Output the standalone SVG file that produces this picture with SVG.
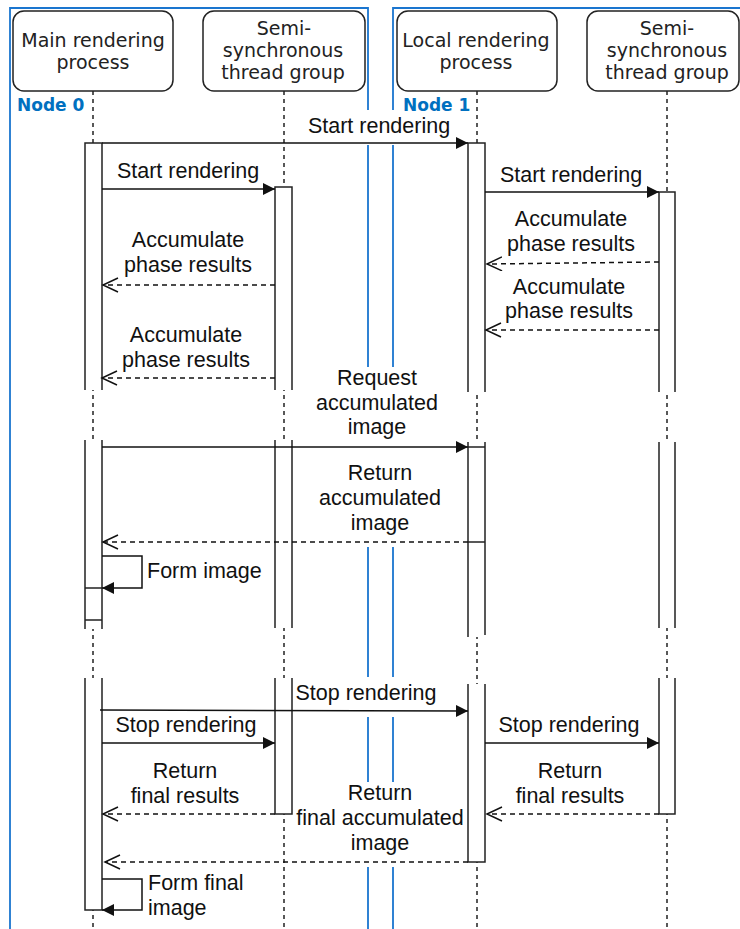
<svg xmlns="http://www.w3.org/2000/svg" width="740" height="929" viewBox="0 0 740 929">
<style>
.box{fill:#fff;stroke:#222;stroke-width:1.5}
.life{stroke:#222;stroke-width:1.5;stroke-dasharray:4 4;fill:none}
.bar{stroke:#222;stroke-width:1.5;fill:none}
.bg{fill:#fff;stroke:none}
.msg{stroke:#111;stroke-width:1.5;fill:none}
.ret{stroke:#111;stroke-width:1.5;fill:none;stroke-dasharray:5 4}
.frame{stroke:#1A75CF;stroke-width:1.8;fill:none}
.h{font-family:"DejaVu Sans",Verdana,sans-serif;font-size:19px;fill:#222;text-anchor:middle}
.t{font-family:"Liberation Sans",Arial,sans-serif;font-size:21.5px;fill:#111;text-anchor:middle}
.ts{font-family:"Liberation Sans",Arial,sans-serif;font-size:21.5px;fill:#111}
.node{font-family:"DejaVu Sans",Verdana,sans-serif;font-weight:bold;font-size:17px;fill:#0070C0}
</style>
<defs>
<marker id="fa" markerUnits="userSpaceOnUse" markerWidth="13" markerHeight="13" refX="12" refY="6" orient="auto"><path d="M0,0 L12,6 L0,12 z" fill="#111"/></marker>
<marker id="oa" markerUnits="userSpaceOnUse" markerWidth="18" markerHeight="18" refX="15.5" refY="7.5" orient="auto"><path d="M0.5,0.5 L15.5,7.5 L0.5,14.5" fill="none" stroke="#111" stroke-width="1.5"/></marker>
</defs>

<g id="frames">
<path class="frame" d="M10,929 V8 H368 V110 M368,145 V367 M368,547 V677 M368,717 V782 M368,867 V929"/>
<path class="frame" d="M740,8 H393 V110 M393,145 V367 M393,547 V677 M393,717 V782 M393,867 V929"/>
<text class="node" x="17" y="111">Node 0</text>
<text class="node" x="403" y="111">Node 1</text>
</g>

<g id="main">
<rect class="box" x="13" y="11" width="160" height="80" rx="11"/>
<text class="h" x="93" y="47">Main rendering</text>
<text class="h" x="93" y="69">process</text>
<path class="life" d="M93,91 V929"/>
<rect class="bg" x="85" y="143" width="17" height="247"/>
<path class="bar" d="M85,390 V143 H102 V390"/>
<rect class="bg" x="85" y="440" width="17" height="189"/>
<path class="bar" d="M85,440 V629 M102,440 V629 M85,588 H102 M85,620 H102"/>
<rect class="bg" x="85" y="678" width="17" height="232"/>
<path class="bar" d="M85,678 V910 H102 V678"/>
</g>

<g id="semi0">
<rect class="box" x="203" y="11" width="162" height="80" rx="11"/>
<text class="h" x="284" y="35">Semi-</text>
<text class="h" x="283" y="57">synchronous</text>
<text class="h" x="283" y="79">thread group</text>
<path class="life" d="M284,91 V929"/>
<rect class="bg" x="275" y="187" width="17" height="203"/>
<path class="bar" d="M275,390 V187 H292 V390"/>
<rect class="bg" x="275" y="440" width="17" height="188"/>
<path class="bar" d="M275,440 V628 M292,440 V628"/>
<rect class="bg" x="275" y="678" width="17" height="136"/>
<path class="bar" d="M275,678 V814 H292 V678"/>
</g>

<g id="local">
<rect class="box" x="397" y="11" width="160" height="80" rx="11"/>
<text class="h" x="476" y="47">Local rendering</text>
<text class="h" x="476" y="69">process</text>
<path class="life" d="M477,91 V929"/>
<rect class="bg" x="468" y="143" width="17" height="249"/>
<path class="bar" d="M468,392 V143 H485 V392"/>
<rect class="bg" x="468" y="442" width="17" height="195"/>
<path class="bar" d="M468,442 V637 M485,442 V635 M468,447 H485 M468,542 H485"/>
<rect class="bg" x="468" y="684" width="17" height="178"/>
<path class="bar" d="M468,684 V862 H485 V684"/>
</g>

<g id="semi1">
<rect class="box" x="587" y="11" width="152" height="80" rx="11"/>
<text class="h" x="667" y="35">Semi-</text>
<text class="h" x="667" y="57">synchronous</text>
<text class="h" x="667" y="79">thread group</text>
<path class="life" d="M667,91 V929"/>
<rect class="bg" x="659" y="192" width="16" height="200"/>
<path class="bar" d="M659,392 V192 H675 V392"/>
<rect class="bg" x="659" y="442" width="16" height="186"/>
<path class="bar" d="M659,442 V628 M675,442 V628"/>
<rect class="bg" x="659" y="678" width="16" height="136"/>
<path class="bar" d="M659,678 V814 H675 V678"/>
</g>

<g id="connectors">
<path class="msg" d="M102,143 H468" marker-end="url(#fa)"/>
<text class="t" x="379" y="133">Start rendering</text>
<path class="msg" d="M102,189 H275" marker-end="url(#fa)"/>
<text class="t" x="188" y="178">Start rendering</text>
<path class="msg" d="M485,192 H659" marker-end="url(#fa)"/>
<text class="t" x="571" y="182">Start rendering</text>

<path class="ret" d="M275,285 H103" marker-end="url(#oa)"/>
<text class="t" x="188" y="247">Accumulate</text>
<text class="t" x="188" y="272">phase results</text>
<path class="ret" d="M275,378 H102" marker-end="url(#oa)"/>
<text class="t" x="186" y="342">Accumulate</text>
<text class="t" x="186" y="367">phase results</text>
<path class="ret" d="M659,262 L487,264" marker-end="url(#oa)"/>
<text class="t" x="571" y="226">Accumulate</text>
<text class="t" x="571" y="251">phase results</text>
<path class="ret" d="M659,330 H486" marker-end="url(#oa)"/>
<text class="t" x="569" y="294">Accumulate</text>
<text class="t" x="569" y="318">phase results</text>

<path class="msg" d="M102,447 H468" marker-end="url(#fa)"/>
<text class="t" x="377" y="385">Request</text>
<text class="t" x="377" y="410">accumulated</text>
<text class="t" x="377" y="434">image</text>
<path class="ret" d="M468,542 H103" marker-end="url(#oa)"/>
<text class="t" x="380" y="480">Return</text>
<text class="t" x="380" y="505">accumulated</text>
<text class="t" x="380" y="530">image</text>

<path class="msg" d="M102,556 H142 V588 H102" marker-end="url(#fa)"/>
<text class="ts" x="147" y="578">Form image</text>

<path class="msg" d="M100,710 L468,711" marker-end="url(#fa)"/>
<text class="t" x="366" y="700">Stop rendering</text>
<path class="msg" d="M102,743 H275" marker-end="url(#fa)"/>
<text class="t" x="186" y="732">Stop rendering</text>
<path class="msg" d="M485,743 H659" marker-end="url(#fa)"/>
<text class="t" x="569" y="732">Stop rendering</text>

<path class="ret" d="M275,814 H103" marker-end="url(#oa)"/>
<text class="t" x="185" y="778">Return</text>
<text class="t" x="185" y="803">final results</text>
<path class="ret" d="M659,814 H487" marker-end="url(#oa)"/>
<text class="t" x="570" y="778">Return</text>
<text class="t" x="570" y="803">final results</text>
<path class="ret" d="M468,862 H105" marker-end="url(#oa)"/>
<text class="t" x="380" y="800">Return</text>
<text class="t" x="380" y="825">final accumulated</text>
<text class="t" x="380" y="850">image</text>

<path class="msg" d="M102,879 H142 V910 H102" marker-end="url(#fa)"/>
<text class="ts" x="148" y="890">Form final</text>
<text class="ts" x="148" y="915">image</text>
</g>
</svg>
